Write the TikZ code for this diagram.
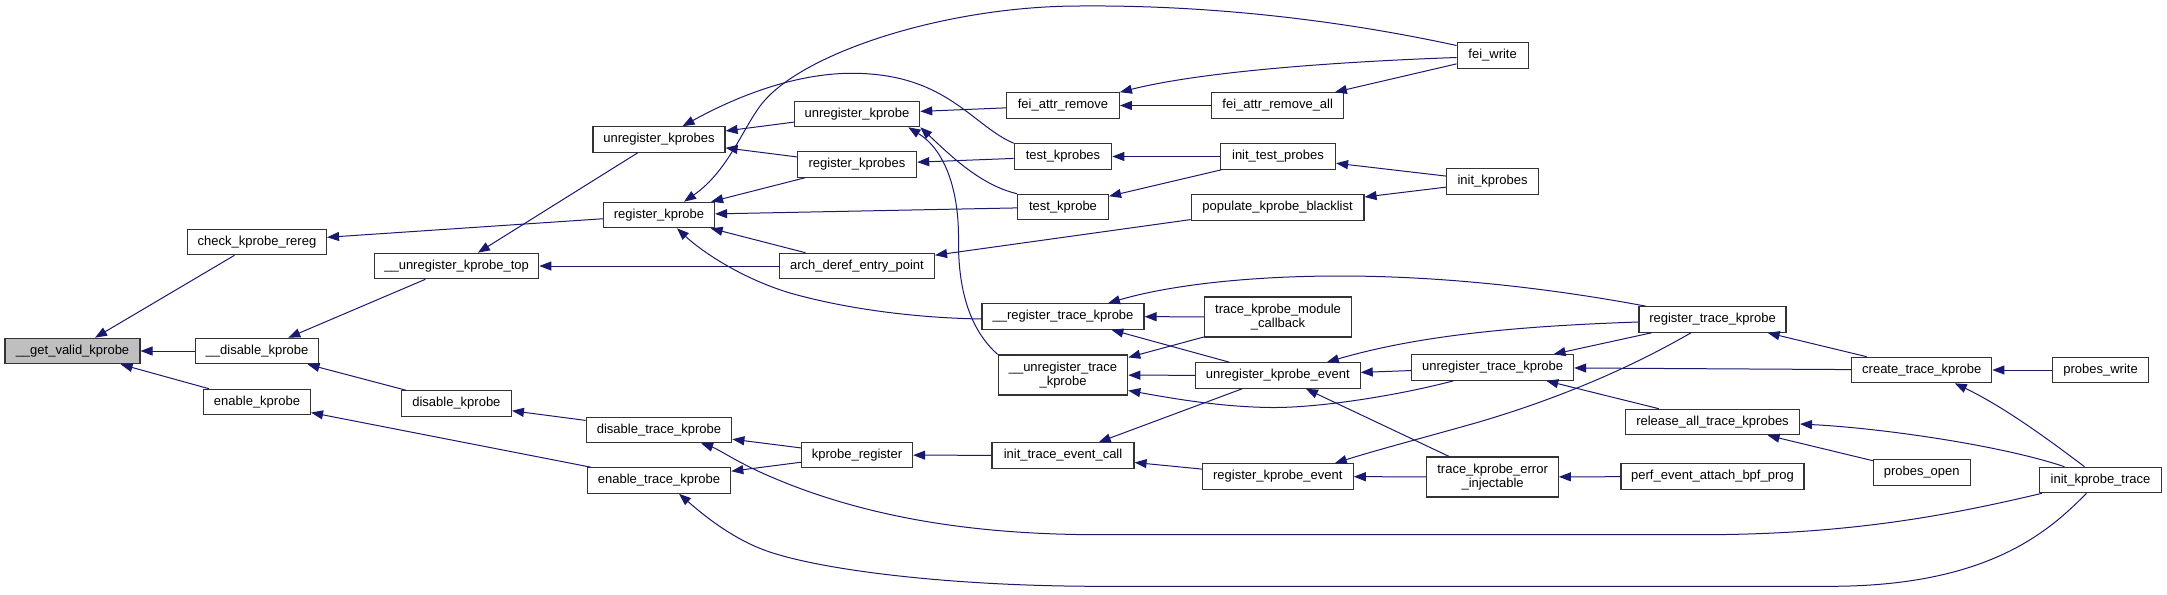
\documentclass[tikz,border=0pt]{standalone}
\usepackage{fontspec}
\setmainfont{Liberation Sans}
\usetikzlibrary{arrows.meta}
\definecolor{mblue}{HTML}{191970}
\definecolor{ngray}{HTML}{BFBFBF}
\begin{document}
\begin{tikzpicture}[x=1pt,y=-1pt,
 nd/.style={draw=black!80,line width=1.1pt,fill=white,minimum height=25.5pt,inner xsep=2pt,inner ysep=1pt,font=\fontsize{13}{14}\selectfont,align=center},
 nd2/.style={nd,minimum height=40pt},
 ed/.style={draw=mblue,line width=1pt,-{Triangle[length=12pt,width=9pt]}}]
\useasboundingbox[fill=white] (0,0) rectangle (2167,594);
% nodes
\node[nd,fill=ngray,minimum width=135pt] (gvk) at (72.5,351) {\_\_get\_valid\_kprobe};
\node[nd,minimum width=139pt] (ckr) at (257,242) {check\_kprobe\_rereg};
\node[nd,minimum width=123pt] (dkx) at (257,351) {\_\_disable\_kprobe};
\node[nd,minimum width=107pt] (ek) at (257,402) {enable\_kprobe};
\node[nd,minimum width=164.4pt] (ukt) at (456.6,266) {\_\_unregister\_kprobe\_top};
\node[nd,minimum width=110pt] (dk) at (456.4,403.5) {disable\_kprobe};
\node[nd,minimum width=132pt] (uks) at (659,139.5) {unregister\_kprobes};
\node[nd,minimum width=111pt] (rk) at (659,215) {register\_kprobe};
\node[nd,minimum width=145.7pt] (dtk) at (659,430) {disable\_trace\_kprobe};
\node[nd,minimum width=143.5pt] (etk) at (659,480.5) {enable\_trace\_kprobe};
\node[nd,minimum width=125.5pt] (uk) at (857,114) {unregister\_kprobe};
\node[nd,minimum width=119.3pt] (rks) at (857,164.5) {register\_kprobes};
\node[nd,minimum width=155pt] (ade) at (857,266) {arch\_deref\_entry\_point};
\node[nd,minimum width=111.2pt] (kr) at (857,455) {kprobe\_register};
\node[nd,minimum width=112.8pt] (far) at (1063,105.5) {fei\_attr\_remove};
\node[nd,minimum width=97.5pt] (tks) at (1063,156.5) {test\_kprobes};
\node[nd,minimum width=91pt] (tk) at (1063,207) {test\_kprobe};
\node[nd,minimum width=162pt] (rtkx) at (1063,316.5) {\_\_register\_trace\_kprobe};
\node[nd2,minimum width=129.5pt] (utkx) at (1063,375) {\_\_unregister\_trace\\\_kprobe};
\node[nd,minimum width=142pt] (itec) at (1063,455.5) {init\_trace\_event\_call};
\node[nd,minimum width=132pt] (fara) at (1277.7,105.5) {fei\_attr\_remove\_all};
\node[nd,minimum width=115pt] (itp) at (1278,156.5) {init\_test\_probes};
\node[nd,minimum width=172.8pt] (pkb) at (1277.6,207.5) {populate\_kprobe\_blacklist};
\node[nd2,minimum width=147pt] (tkmc) at (1278,317) {trace\_kprobe\_module\\\_callback};
\node[nd,minimum width=164.8pt] (uke) at (1277.8,375.5) {unregister\_kprobe\_event};
\node[nd,minimum width=150.8pt] (rke) at (1277.8,476.5) {register\_kprobe\_event};
\node[nd,minimum width=71pt] (fw) at (1492.6,55.5) {fei\_write};
\node[nd,minimum width=92.4pt] (ikp) at (1492.6,181.5) {init\_kprobes};
\node[nd,minimum width=162pt] (utk) at (1492.6,367.5) {unregister\_trace\_kprobe};
\node[nd2,minimum width=131.4pt] (tkei) at (1492.6,477) {trace\_kprobe\_error\\\_injectable};
\node[nd,minimum width=147pt] (rtk) at (1712.5,319.5) {register\_trace\_kprobe};
\node[nd,minimum width=173.8pt] (ratk) at (1712.5,422) {release\_all\_trace\_kprobes};
\node[nd,minimum width=183pt] (peab) at (1712.5,476.5) {perf\_event\_attach\_bpf\_prog};
\node[nd,minimum width=140pt] (ctk) at (1921.8,370) {create\_trace\_kprobe};
\node[nd,minimum width=96.7pt] (po) at (1921.7,472.5) {probes\_open};
\node[nd,minimum width=96.3pt] (pw) at (2100.5,370) {probes\_write};
\node[nd,minimum width=122pt] (ikt) at (2100.5,480) {init\_kprobe\_trace};
% straight edges
\draw[ed] (ckr) -- (gvk);
\draw[ed] (dkx) -- (gvk);
\draw[ed] (ek) -- (gvk);
\draw[ed] (rk) -- (ckr);
\draw[ed] (ukt) -- (dkx);
\draw[ed] (dk) -- (dkx);
\draw[ed] (etk) -- (ek);
\draw[ed] (uks) -- (ukt);
\draw[ed] (ade) -- (ukt);
\draw[ed] (dtk) -- (dk);
\draw[ed] (uk) -- (uks);
\draw[ed] (rks) -- (uks);
\draw[ed] (rks) -- (rk);
\draw[ed] (tk) -- (rk);
\draw[ed] (ade) -- (rk);
\draw[ed] (far) -- (uk);
\draw[ed] (tks) -- (rks);
\draw[ed] (fara) -- (far);
\draw[ed] (fw) -- (fara);
\draw[ed] (itp) -- (tks);
\draw[ed] (itp) -- (tk);
\draw[ed] (ikp) -- (itp);
\draw[ed] (pkb) -- (ade);
\draw[ed] (ikp) -- (pkb);
\draw[ed] (kr) -- (dtk);
\draw[ed] (kr) -- (etk);
\draw[ed] (itec) -- (kr);
\draw[ed] (tkmc) -- (rtkx);
\draw[ed] (uke) -- (rtkx);
\draw[ed] (tkmc) -- (utkx);
\draw[ed] (uke) -- (utkx);
\draw[ed] (uke) -- (itec);
\draw[ed] (rke) -- (itec);
\draw[ed] (utk) -- (uke);
\draw[ed] (tkei) -- (uke);
\draw[ed] (tkei) -- (rke);
\draw[ed] (rtk) -- (utk);
\draw[ed] (ctk) -- (utk);
\draw[ed] (ratk) -- (utk);
\draw[ed] (peab) -- (tkei);
\draw[ed] (ctk) -- (rtk);
\draw[ed] (pw) -- (ctk);
\draw[ed] (po) -- (ratk);
% curved edges
\draw[ed] (tks.north west) .. controls (975,127) and (950,80) .. (870,74) .. controls (800,68) and (730,100) .. ([xshift=23.5pt]uks.north);
\draw[ed] ([yshift=10pt]fw.west) .. controls (1330,18) and (1200,5) .. (1080,6) .. controls (950,6) and (810,50) .. (765,100) .. controls (745,122) and (730,170) .. ([xshift=25pt]rk.north);
\draw[ed] ([yshift=-2.5pt]rtkx.west) .. controls (920,318) and (850,310) .. (790,293) .. controls (740,278) and (700,250) .. ([xshift=18pt]rk.south);
\draw[ed] (tk.north west) .. controls (980,185) and (950,155) .. (uk.south east);
\draw[ed] (utkx.north west) .. controls (970,330) and (958,290) .. (958.5,240) .. controls (959,190) and (945,150) .. ([xshift=-12pt]uk.south east);
\draw[ed] ([yshift=-2pt]fw.west) .. controls (1330,62) and (1200,72) .. (far.north east);
\draw[ed] ([xshift=3pt]ikt.south west) .. controls (1950,515) and (1850,534.7) .. (1700,534.7) -- (1100,534.7) .. controls (990,534.7) and (870,522) .. (760,472) .. controls (735,460.6) and (718,449) .. ([xshift=42pt]dtk.south);
\draw[ed] ([xshift=-14pt]ikt.south) .. controls (2050,530) and (1990,586.3) .. (1830,586.3) -- (1100,586.3) .. controls (950,586.3) and (820,570) .. (766,550.7) .. controls (730,537.8) and (700,512) .. ([xshift=20pt]etk.south);
\draw[ed] ([xshift=7.5pt]rtk.north west) .. controls (1560,290) and (1450,276) .. (1340,276) .. controls (1250,276) and (1170,285) .. ([xshift=45pt]rtkx.north);
\draw[ed] ([xshift=-39pt]utk.south) .. controls (1400,395) and (1320,408) .. (1271,407.5) .. controls (1220,407) and (1170,398) .. ([yshift=-15.5pt]utkx.east);
\draw[ed] ([yshift=-2.5pt]rtk.west) .. controls (1520,326) and (1420,335) .. ([xshift=49pt]uke.north);
\draw[ed] ([xshift=-21.5pt]rtk.south) .. controls (1630,368) and (1560,398) .. (1480,421.7) .. controls (1430,436) and (1380,449) .. ([xshift=57pt]rke.north);
\draw[ed] ([xshift=-16pt]ikt.north) .. controls (2040,433) and (2000,405) .. ([xshift=33pt]ctk.south);
\draw[ed] ([xshift=25.5pt]ikt.north west) .. controls (2000,445) and (1880,428) .. ([yshift=-2pt]ratk.east);
\end{tikzpicture}
\end{document}
